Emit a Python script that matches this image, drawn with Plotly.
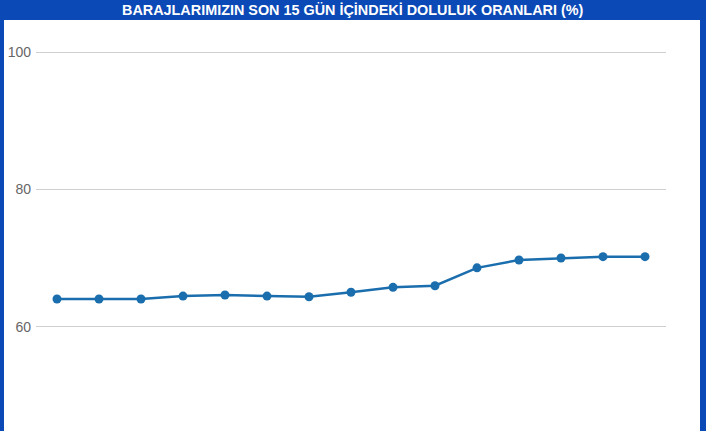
import plotly.graph_objects as go

# son 15 gün doluluk oranları (%)
days = [str(i) for i in range(1, 16)]
rates = [64.07, 64.07, 64.07, 64.5, 64.65, 64.5, 64.4, 65.05, 65.77, 66.0,
         68.6, 69.75, 70.04, 70.23, 70.23]
y_ticks = [60, 80, 100]

W, H = 706, 431
BLUE = "#0b49b6"
LINE = "#1b6ead"

fig = go.Figure(go.Scatter(
    x=days, y=rates, mode="lines+markers",
    line=dict(color=LINE, width=2.5),
    marker=dict(color=LINE, size=9),
    hoverinfo="y",
))

fig.update_layout(
    width=W, height=H,
    margin=dict(l=0, r=0, t=0, b=0),
    paper_bgcolor="white", plot_bgcolor="white",
    showlegend=False,
    font=dict(family="Liberation Sans, Arial, sans-serif", size=13, color="#555"),
    xaxis=dict(domain=[36 / W, 666 / W], range=[-0.5, 14.5],
               showticklabels=False, showgrid=False, zeroline=False),
    yaxis=dict(domain=[0, 406 / H], range=[44.87, 103.93],
               tickvals=y_ticks, showgrid=True, gridcolor="#cfcfcf",
               gridwidth=1, zeroline=False, ticks="", ticklen=0,
               ticklabelstandoff=4,
               tickfont=dict(size=14, color="#666")),
    shapes=[
        # başlık şeridi ve kenarlar
        dict(type="rect", xref="paper", yref="paper", x0=0, x1=1,
             y0=(H - 20) / H, y1=1, fillcolor=BLUE, line_width=0, layer="above"),
        dict(type="rect", xref="paper", yref="paper", x0=0, x1=4 / W,
             y0=0, y1=1, fillcolor=BLUE, line_width=0, layer="above"),
        dict(type="rect", xref="paper", yref="paper", x0=700 / W, x1=1,
             y0=0, y1=1, fillcolor=BLUE, line_width=0, layer="above"),
    ],
    annotations=[dict(
        text="<b>BARAJLARIMIZIN SON 15 GÜN İÇİNDEKİ DOLULUK ORANLARI (%)</b>",
        xref="paper", yref="paper", x=353 / W, y=(H - 10) / H,
        xanchor="center", yanchor="middle", showarrow=False,
        font=dict(family="Liberation Sans, Arial, sans-serif", size=14.4, color="white"),
    )],
)

# sayfa kenar boşluğunu kaldır
fig.write_html("out.html", config={"displayModeBar": False},
               post_script="document.body.style.margin='0';")
